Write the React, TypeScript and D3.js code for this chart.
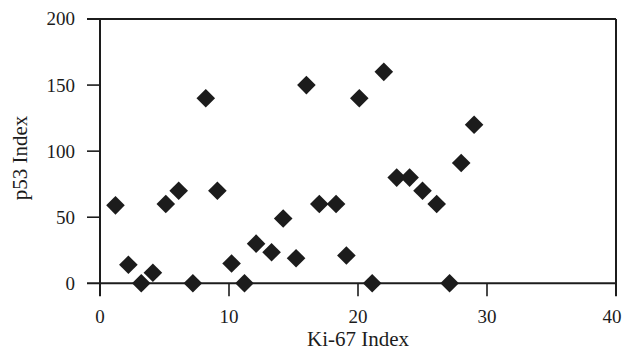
import React, { useEffect, useRef } from 'react';
import * as d3 from 'd3';

// Ki-67 index vs p53 index, one diamond per case
const ki67 = [1.2, 2.2, 3.2, 4.1, 5.1, 6.1, 7.2, 8.2, 9.1, 10.2, 11.2, 12.1, 13.3, 14.2, 15.2, 16, 17, 18.3, 19.1, 20.1, 21.1, 22, 23, 24, 25, 26.1, 27.1, 28, 29];
const p53 = [59, 14, 0, 8, 60, 70, 0, 140, 70, 15, 0, 30, 23.5, 49, 19, 150, 60, 60, 21, 140, 0, 160, 80, 80, 70, 60, 0, 91, 120];

const xTicks = [0, 10, 20, 30, 40];
const yTicks = [0, 50, 100, 150, 200];

export default function App() {
  const svgRef = useRef<SVGSVGElement>(null);

  useEffect(() => {
    const width = 623;
    const height = 352;
    const svg = d3.select(svgRef.current);
    svg.attr('viewBox', `0 0 ${width} ${height}`);
    svg.selectAll('*').remove();

    const font = "'Liberation Serif', 'Times New Roman', serif";
    const ink = '#1c1c1c';
    const tick = 13;

    const x = d3.scaleLinear().domain([0, 40]).range([100, 616]);
    const y = d3.scaleLinear().domain([0, 200]).range([283.3, 19]);

    const g = svg.append('g');

    // box: left, bottom, top, right
    const [x0, x1] = x.range();
    const [y0, y1] = y.range();
    g.append('line').attr('x1', x0).attr('x2', x0).attr('y1', y1).attr('y2', y0 + tick)
      .attr('stroke', ink).attr('stroke-width', 2);
    g.append('line').attr('x1', x0 - tick).attr('x2', x1).attr('y1', y0).attr('y2', y0)
      .attr('stroke', ink).attr('stroke-width', 2);
    g.append('line').attr('x1', x0 - tick).attr('x2', x1).attr('y1', y1).attr('y2', y1)
      .attr('stroke', ink).attr('stroke-width', 2);
    g.append('line').attr('x1', x1).attr('x2', x1).attr('y1', y1).attr('y2', y0 + tick)
      .attr('stroke', ink).attr('stroke-width', 2);

    // ticks
    g.selectAll('line.xt').data(xTicks.slice(1, -1)).enter().append('line')
      .attr('class', 'xt')
      .attr('x1', (d) => x(d)).attr('x2', (d) => x(d))
      .attr('y1', y0).attr('y2', y0 + tick)
      .attr('stroke', ink).attr('stroke-width', 1.6);
    g.selectAll('line.yt').data(yTicks.slice(1, -1)).enter().append('line')
      .attr('class', 'yt')
      .attr('x1', x0 - tick).attr('x2', x0)
      .attr('y1', (d) => y(d)).attr('y2', (d) => y(d))
      .attr('stroke', ink).attr('stroke-width', 1.6);

    // tick labels (last one kept inside the page)
    g.selectAll('text.xl').data(xTicks).enter().append('text')
      .attr('class', 'xl')
      .attr('x', (d) => Math.min(x(d), width - 11))
      .attr('y', 323)
      .attr('text-anchor', 'middle')
      .attr('font-family', font).attr('font-size', 19).attr('fill', ink)
      .text((d) => d);
    g.selectAll('text.yl').data(yTicks).enter().append('text')
      .attr('class', 'yl')
      .attr('x', 75).attr('y', (d) => y(d))
      .attr('dy', '0.34em')
      .attr('text-anchor', 'end')
      .attr('font-family', font).attr('font-size', 19).attr('fill', ink)
      .text((d) => d);

    // axis titles
    g.append('text')
      .attr('x', (x0 + x1) / 2).attr('y', 346)
      .attr('text-anchor', 'middle')
      .attr('font-family', font).attr('font-size', 21).attr('fill', ink)
      .text('Ki-67 Index');
    g.append('text')
      .attr('transform', 'translate(27,158) rotate(-90)')
      .attr('text-anchor', 'middle')
      .attr('font-family', font).attr('font-size', 21).attr('fill', ink)
      .text('p53 Index');

    // diamonds
    const diamond = d3.symbol().type(d3.symbolSquare).size(173);
    g.selectAll('path.pt').data(d3.range(ki67.length)).enter().append('path')
      .attr('class', 'pt')
      .attr('d', diamond)
      .attr('transform', (i) => `translate(${x(ki67[i])},${y(p53[i])}) rotate(45)`)
      .attr('fill', ink);
  }, []);

  return (
    <svg
      ref={svgRef}
      width={623}
      height={352}
      style={{ position: 'absolute', left: 0, top: 0, background: '#fff' }}
    />
  );
}
